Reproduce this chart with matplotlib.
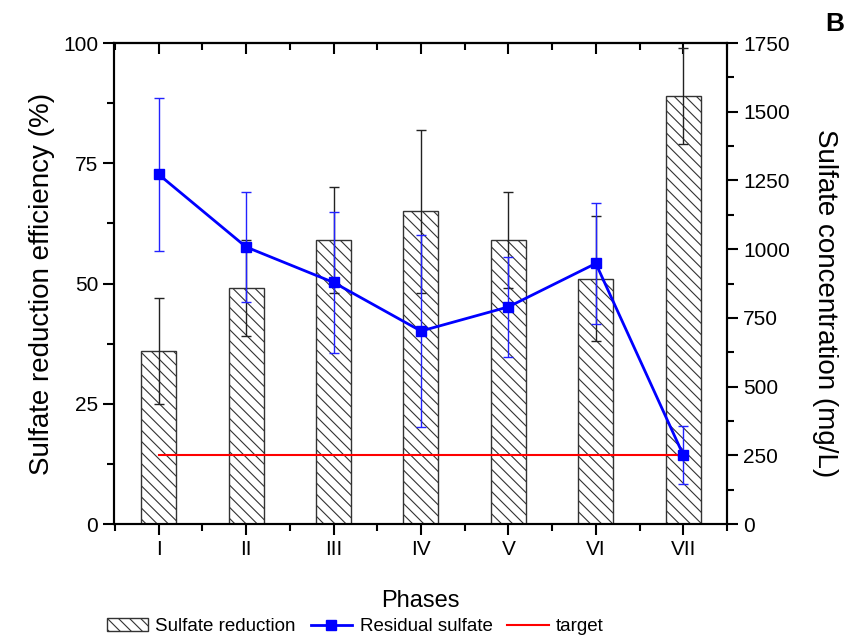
import matplotlib
matplotlib.use('Agg')
import matplotlib.pyplot as plt
import numpy as np
from matplotlib.ticker import MultipleLocator

plt.rcParams['font.family'] = ['Liberation Sans', 'DejaVu Sans']
plt.rcParams['hatch.linewidth'] = 0.8

phases = ['I', 'II', 'III', 'IV', 'V', 'VI', 'VII']
reduction = [36, 49, 59, 65, 59, 51, 89]
reduction_err = [11, 10, 11, 17, 10, 13, 10]
residual = [1272, 1008, 879, 702, 790, 948, 251]
residual_err = [278, 200, 257, 349, 182, 220, 106]
target = [250] * 7

x = np.arange(1, len(phases) + 1)

fig = plt.figure(figsize=(8.56, 6.41), dpi=100)
ax = fig.add_axes([0.1332, 0.1825, 0.7161, 0.7504])

bars = ax.bar(x, reduction, width=0.4, facecolor='white', edgecolor='#333333',
              hatch='\\\\\\', linewidth=1.0, label='Sulfate reduction', zorder=2)
ax.errorbar(x, reduction, yerr=reduction_err, fmt='none', ecolor='#222222',
            elinewidth=1.0, capsize=3.5, capthick=1.0, zorder=3)

ax.set_xlim(0.49, 7.5)
ax.set_ylim(0, 100)
ax.set_xticks(x)
ax.set_xticklabels(phases)
ax.yaxis.set_major_locator(MultipleLocator(25))
ax.yaxis.set_minor_locator(MultipleLocator(12.5))
ax.xaxis.set_minor_locator(MultipleLocator(0.5))
ax.tick_params(axis='both', which='major', labelsize=15, length=8, width=1.5,
               direction='out')
ax.tick_params(axis='both', which='minor', length=5, width=1.5, direction='out')
ax.set_ylabel('Sulfate reduction efficiency (%)', fontsize=20, labelpad=6)
ax.set_xlabel('Phases', fontsize=17, labelpad=22)
for s in ax.spines.values():
    s.set_linewidth(1.5)

# top axis: ticks pointing inward, no labels
top = ax.secondary_xaxis('top')
top.set_xticks(x)
top.xaxis.set_minor_locator(MultipleLocator(0.5))
top.tick_params(axis='x', which='major', direction='in', length=8, width=1.5,
                labeltop=False)
top.tick_params(axis='x', which='minor', direction='in', length=5, width=1.5)
top.spines['top'].set_linewidth(1.5)

ax2 = ax.twinx()
ax2.set_ylim(0, 1750)
ax2.yaxis.set_major_locator(MultipleLocator(250))
ax2.yaxis.set_minor_locator(MultipleLocator(125))
ax2.tick_params(axis='y', which='major', labelsize=15, length=8, width=1.5,
                direction='out')
ax2.tick_params(axis='y', which='minor', length=5, width=1.5, direction='out')
ax2.set_ylabel('Sulfate concentration (mg/L)', fontsize=20, rotation=270,
               va='center')
ax2.yaxis.set_label_coords(1.16, 0.46)
for s in ax2.spines.values():
    s.set_linewidth(1.5)

ax2.errorbar(x, residual, yerr=residual_err, fmt='none', ecolor='#2222ff',
             elinewidth=1.0, capsize=3.5, capthick=1.0, zorder=3)
res_line, = ax2.plot(x, residual, color='#0000ff', lw=2, marker='s',
                     markersize=7.5, label='Residual sulfate', zorder=4)
tgt_line, = ax2.plot(x, target, color='#ff0000', lw=1.5, label='target',
                     zorder=3)

fig.legend([bars, res_line, tgt_line],
           ['Sulfate reduction', 'Residual sulfate', 'target'],
           loc='center', bbox_to_anchor=(0.415, 0.022), ncol=3, frameon=False,
           fontsize=13.5, handlelength=2.2, columnspacing=0.8, handletextpad=0.4)

fig.text(0.975, 0.963, 'B', fontsize=19, fontweight='bold', ha='center',
         va='center')

fig.savefig('out.png', dpi=100)
